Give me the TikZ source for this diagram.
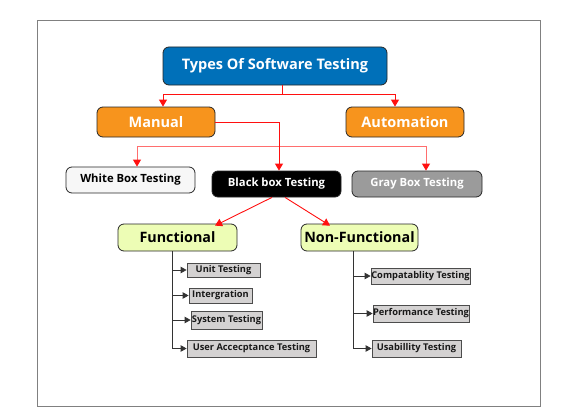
\documentclass[tikz,border=0pt]{standalone}
\usepackage{fontspec}
\setmainfont{Open Sans}
\usetikzlibrary{arrows.meta}
\definecolor{titleblue}{HTML}{0070B9}
\definecolor{orangebox}{HTML}{F7941D}
\definecolor{limebox}{HTML}{EDFDB5}
\definecolor{graybox}{HTML}{9B9B9B}
\definecolor{subgray}{HTML}{D4D2D2}
\definecolor{framegray}{HTML}{808080}
\definecolor{linered}{HTML}{FF1010}
\definecolor{lightred}{HTML}{FF6E6E}
\tikzset{
  box/.style={draw=black!85, line width=0.8pt, rounded corners=6pt, inner sep=0pt, font=\bfseries},
  subbox/.style={draw=black!70, line width=0.8pt, fill=subgray, inner sep=0pt, font=\bfseries\fontsize{9.3}{11}\selectfont, text=black!90},
  redarrow/.style={draw=linered, line width=0.9pt, -{Triangle[width=8pt,length=7pt]}},
  lightarrow/.style={draw=lightred, line width=0.9pt, -{Triangle[width=8pt,length=7pt,fill=linered,color=linered]}},
  redline/.style={draw=linered, line width=0.9pt},
  blackarrow/.style={draw=black!80, line width=0.8pt, -{Triangle[width=6.5pt,length=6pt]}},
  blackline/.style={draw=black!80, line width=0.8pt}
}
\begin{document}
\begin{tikzpicture}[x=1pt,y=-1pt]
\useasboundingbox (0,0) rectangle (570,420);
\draw[framegray, line width=1pt] (37,21) rectangle (540,406);

\node[box, fill=titleblue, text=white, minimum width=224pt, minimum height=38pt, font=\bfseries\fontsize{14.5}{17}\selectfont] (title) at (275,66) {Types Of Software Testing};
\node[box, fill=orangebox, text=white, minimum width=118pt, minimum height=30pt, font=\bfseries\fontsize{14.5}{16}\selectfont] (manual) at (156,122) {Manual};
\node[box, fill=orangebox, text=white, minimum width=118pt, minimum height=30pt, font=\bfseries\fontsize{14.5}{16}\selectfont] (auto) at (405,122) {Automation};
\node[box, fill=black!3, text=black, minimum width=129pt, minimum height=26pt, font=\bfseries\fontsize{11.3}{13}\selectfont] (white) at (130.5,180) {White Box Testing};
\node[box, fill=black, text=white, minimum width=129pt, minimum height=26pt, font=\bfseries\fontsize{11.3}{13}\selectfont] (black) at (276.5,184) {Black box Testing};
\node[box, fill=graybox, text=white, minimum width=130pt, minimum height=26pt, font=\bfseries\fontsize{11.3}{13}\selectfont] (gray) at (417,184) {Gray Box Testing};
\node[box, fill=limebox, text=black, minimum width=119pt, minimum height=27pt, font=\bfseries\fontsize{14.3}{16}\selectfont] (func) at (177.5,237.5) {Functional};
\node[box, fill=limebox, text=black, minimum width=117pt, minimum height=27pt, font=\bfseries\fontsize{14.3}{16}\selectfont] (nonfunc) at (359.5,237.5) {Non-Functional};

\node[subbox, minimum width=73pt, minimum height=14pt] (unit) at (223.5,270) {Unit Testing};
\node[subbox, minimum width=63pt, minimum height=15pt] (integ) at (220.5,295.5) {Intergration};
\node[subbox, minimum width=71pt, minimum height=18pt] (system) at (226.5,320) {System Testing};
\node[subbox, minimum width=129pt, minimum height=17pt] (user) at (251.5,348.5) {User Accecptance Testing};
\node[subbox, minimum width=99pt, minimum height=16pt] (compat) at (420.5,276) {Compatablity Testing};
\node[subbox, minimum width=96pt, minimum height=17pt] (perf) at (421,313.5) {Performance Testing};
\node[subbox, minimum width=89pt, minimum height=17pt] (usab) at (416.5,348.5) {Usabillity Testing};

% title to manual / automation
\coordinate (tsplit) at (282,94);
\draw[redline] (title.south -| tsplit) -- (tsplit);
\draw[redarrow] (tsplit) -| ([xshift=7pt]manual.north);
\draw[redarrow] (tsplit) -| ([xshift=-10pt]auto.north);

% manual to white / black / gray
\coordinate (mdrop) at (279,146);
\draw[lightarrow] (mdrop) -| ([xshift=6.5pt]white.north);
\draw[lightarrow] (mdrop) -| ([xshift=9pt]gray.north);
\draw[redarrow] (manual.east) -| (black.north -| mdrop);

% black to functional / non-functional
\draw[redarrow] ([xshift=-4.5pt]black.south) -- ([xshift=37.5pt,yshift=-2pt]func.north);
\draw[redarrow] ([xshift=8.5pt]black.south) -- ([xshift=-29.5pt,yshift=-2pt]nonfunc.north);

% functional list
\coordinate (fx) at (172,251);
\draw[blackline] (func.south -| fx) -- (fx |- user.west);
\draw[blackarrow] (fx |- unit.west) -- (unit.west);
\draw[blackarrow] (fx |- integ.west) -- (integ.west);
\draw[blackarrow] (fx |- system.west) -- (system.west);
\draw[blackarrow] (fx |- user.west) -- (user.west);

% non-functional list
\coordinate (nx) at (353,251);
\draw[blackline] (nonfunc.south -| nx) -- (nx |- usab.west);
\draw[blackarrow] (nx |- compat.west) -- (compat.west);
\draw[blackarrow] (nx |- perf.west) -- (perf.west);
\draw[blackarrow] (nx |- usab.west) -- (usab.west);
\end{tikzpicture}
\end{document}
